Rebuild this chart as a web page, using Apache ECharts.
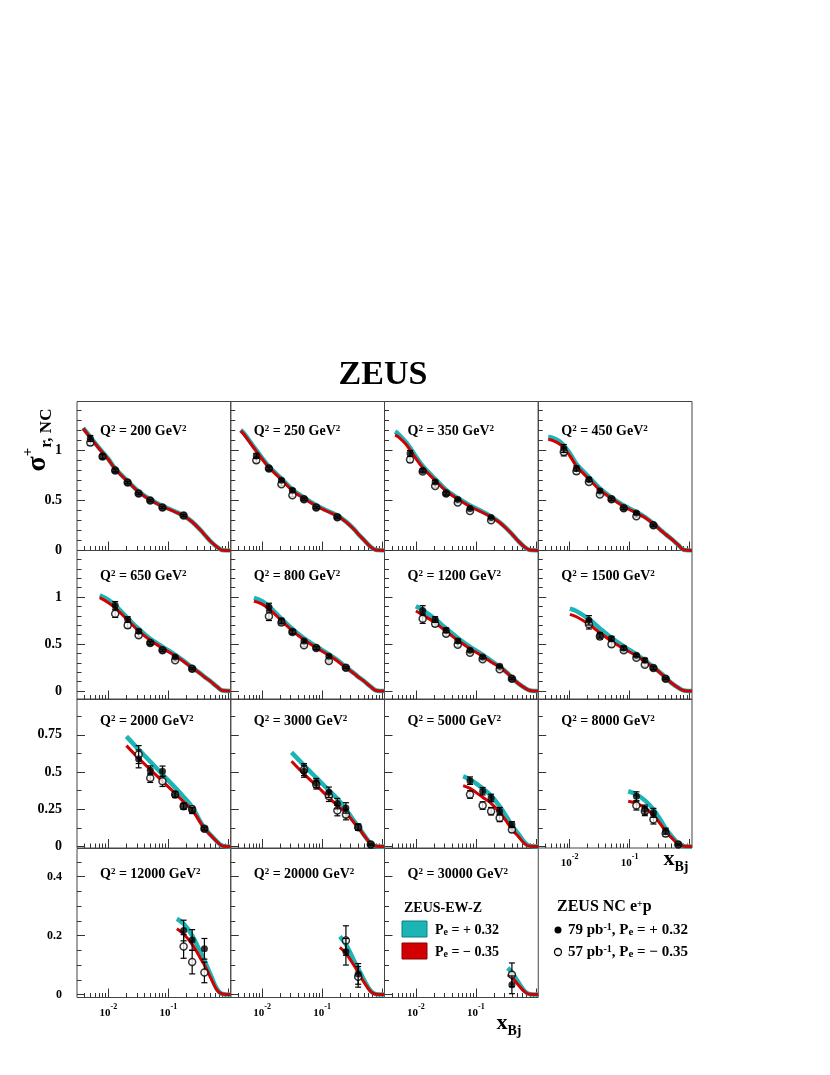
<!DOCTYPE html>
<html>
<head>
<meta charset="utf-8">
<script src="https://cdn.jsdelivr.net/npm/echarts@6/dist/echarts.min.js"></script>
<style>
html, body { margin: 0; padding: 0; background: #fff; }
#main { width: 830px; height: 1075px; }
</style>
</head>
<body>
<div id="main"></div>
<script>
const _ = null;
const FONT = '"Liberation Serif", "Times New Roman", serif';
const TEAL = '#1db4b6';
const RED = '#d20000';

// Q^2 of each panel (GeV^2)
const q2Values = [200, 250, 350, 450, 650, 800, 1200, 1500, 2000, 3000, 5000, 8000, 12000, 20000, 30000];

// x bins of the measured points
const xBins = [0.005, 0.008, 0.013, 0.021, 0.032, 0.05, 0.08, 0.13, 0.18, 0.25, 0.4, 0.65];

// 79 pb-1, Pe = +0.32 (filled)
const sigmaPos = [
  [1.12, 0.94, 0.80, 0.68, 0.57, 0.50, 0.43, _, 0.35, _, _, _],
  [_, 0.946, 0.82, 0.703, 0.603, 0.513, 0.43, _, 0.333, _, _, _],
  [_, 0.97, 0.80, 0.686, 0.57, 0.51, 0.42, _, 0.33, _, _, _],
  [_, 1.02, 0.82, 0.71, 0.596, 0.513, 0.423, 0.376, _, 0.253, _, _],
  [_, _, 0.912, 0.76, 0.635, 0.51, 0.433, 0.362, _, 0.238, _, _],
  [_, _, 0.894, 0.745, 0.628, 0.532, 0.457, 0.369, _, 0.249, _, _],
  [_, _, 0.858, 0.76, 0.646, 0.532, 0.433, 0.362, _, 0.263, 0.132, _],
  [_, _, _, 0.752, 0.593, 0.557, 0.457, 0.38, 0.327, 0.245, 0.132, _],
  [_, _, _, _, 0.588, 0.511, 0.505, 0.349, 0.27, 0.241, 0.12, _],
  [_, _, _, _, _, 0.505, 0.427, 0.364, 0.288, 0.259, 0.13, 0.013],
  [_, _, _, _, _, _, 0.442, 0.371, 0.326, 0.237, 0.147, _],
  [_, _, _, _, _, _, _, 0.337, 0.248, 0.226, 0.103, 0.013],
  [_, _, _, _, _, _, _, _, 0.217, 0.185, 0.155, _],
  [_, _, _, _, _, _, _, _, _, 0.145, 0.07, _],
  [_, _, _, _, _, _, _, _, _, _, 0.033, _]
];
const errPos = [
  [0.03, 0.02, 0.015, 0.012, 0.01, 0.01, 0.01, _, 0.01, _, _, _],
  [_, 0.025, 0.015, 0.015, 0.015, 0.012, 0.01, _, 0.01, _, _, _],
  [_, 0.03, 0.015, 0.015, 0.015, 0.012, 0.01, _, 0.01, _, _, _],
  [_, 0.04, 0.025, 0.02, 0.015, 0.012, 0.012, 0.012, _, 0.01, _, _],
  [_, _, 0.04, 0.03, 0.02, 0.015, 0.012, 0.012, _, 0.01, _, _],
  [_, _, 0.04, 0.03, 0.02, 0.015, 0.015, 0.012, _, 0.01, _, _],
  [_, _, 0.05, 0.03, 0.025, 0.02, 0.015, 0.015, _, 0.012, 0.01, _],
  [_, _, _, 0.05, 0.03, 0.025, 0.02, 0.015, 0.02, 0.015, 0.01, _],
  [_, _, _, _, 0.06, 0.03, 0.035, 0.02, 0.02, 0.02, 0.01, _],
  [_, _, _, _, _, 0.04, 0.03, 0.035, 0.035, 0.035, 0.02, 0.005],
  [_, _, _, _, _, _, 0.025, 0.025, 0.025, 0.025, 0.02, _],
  [_, _, _, _, _, _, _, 0.03, 0.03, 0.03, 0.02, 0.005],
  [_, _, _, _, _, _, _, _, 0.035, 0.035, 0.035, _],
  [_, _, _, _, _, _, _, _, _, 0.045, 0.035, _],
  [_, _, _, _, _, _, _, _, _, _, 0.03, _]
];

// 57 pb-1, Pe = -0.35 (open)
const sigmaNeg = [
  [1.08, 0.94, 0.80, 0.68, 0.57, 0.50, 0.43, _, 0.35, _, _, _],
  [_, 0.903, 0.82, 0.663, 0.553, 0.513, 0.43, _, 0.333, _, _, _],
  [_, 0.91, 0.79, 0.646, 0.57, 0.48, 0.396, _, 0.303, _, _, _],
  [_, 0.986, 0.793, 0.686, 0.56, 0.513, 0.423, 0.343, _, 0.253, _, _],
  [_, _, 0.823, 0.70, 0.593, 0.51, 0.433, 0.327, _, 0.238, _, _],
  [_, _, 0.795, 0.73, 0.628, 0.486, 0.457, 0.319, _, 0.249, _, _],
  [_, _, 0.77, 0.717, 0.61, 0.493, 0.408, 0.337, _, 0.231, 0.132, _],
  [_, _, _, 0.71, 0.58, 0.497, 0.433, 0.355, 0.28, 0.245, 0.132, _],
  [_, _, _, _, 0.617, 0.46, 0.438, 0.349, 0.27, 0.25, 0.12, _],
  [_, _, _, _, _, 0.516, 0.416, 0.337, 0.241, 0.214, 0.13, 0.013],
  [_, _, _, _, _, _, 0.349, 0.275, 0.237, 0.192, 0.114, _],
  [_, _, _, _, _, _, _, 0.275, 0.237, 0.181, 0.087, 0.013],
  [_, _, _, _, _, _, _, _, 0.163, 0.11, 0.075, _],
  [_, _, _, _, _, _, _, _, _, 0.183, 0.06, _],
  [_, _, _, _, _, _, _, _, _, _, 0.067, _]
];
const errNeg = [
  [0.03, 0.02, 0.015, 0.012, 0.01, 0.01, 0.01, _, 0.01, _, _, _],
  [_, 0.025, 0.015, 0.015, 0.015, 0.012, 0.01, _, 0.01, _, _, _],
  [_, 0.03, 0.015, 0.015, 0.015, 0.012, 0.01, _, 0.01, _, _, _],
  [_, 0.04, 0.025, 0.02, 0.015, 0.012, 0.012, 0.012, _, 0.01, _, _],
  [_, _, 0.04, 0.03, 0.02, 0.015, 0.012, 0.012, _, 0.01, _, _],
  [_, _, 0.045, 0.03, 0.02, 0.015, 0.015, 0.012, _, 0.01, _, _],
  [_, _, 0.05, 0.03, 0.025, 0.02, 0.015, 0.015, _, 0.012, 0.01, _],
  [_, _, _, 0.05, 0.03, 0.025, 0.02, 0.015, 0.02, 0.015, 0.01, _],
  [_, _, _, _, 0.06, 0.03, 0.035, 0.02, 0.02, 0.02, 0.01, _],
  [_, _, _, _, _, 0.04, 0.03, 0.035, 0.035, 0.035, 0.02, 0.005],
  [_, _, _, _, _, _, 0.025, 0.025, 0.025, 0.025, 0.02, _],
  [_, _, _, _, _, _, _, 0.03, 0.03, 0.03, 0.02, 0.005],
  [_, _, _, _, _, _, _, _, 0.04, 0.04, 0.035, _],
  [_, _, _, _, _, _, _, _, _, 0.05, 0.035, _],
  [_, _, _, _, _, _, _, _, _, _, 0.04, _]
];

// ZEUS-EW-Z predictions: first value at curveStart, then on curveX
const curveStart = [0.0038, 0.0044, 0.0045, 0.0044, 0.0072, 0.0073, 0.0100, 0.0101, 0.020, 0.031, 0.0615, 0.095, 0.139, 0.198, 0.34];
const curveX = [0.005, 0.007, 0.01, 0.013, 0.021, 0.032, 0.05, 0.08, 0.13, 0.18, 0.25, 0.35, 0.4, 0.5, 0.65, 0.8, 1.1];
const curvePos = [
  [1.225, 1.135, 1.025, 0.915, 0.82, 0.695, 0.59, 0.51, 0.445, 0.39, 0.348, 0.288, 0.2, 0.16, 0.095, 0.035, 0.003, 0],
  [1.205, 1.17, 1.05, 0.925, 0.84, 0.72, 0.61, 0.528, 0.452, 0.39, 0.35, 0.29, 0.207, 0.166, 0.105, 0.035, 0.004, 0],
  [1.19, 1.17, 1.075, 0.94, 0.845, 0.715, 0.605, 0.525, 0.45, 0.387, 0.34, 0.283, 0.202, 0.166, 0.10, 0.035, 0.004, 0],
  [1.136, 1.13, 1.085, 0.975, 0.865, 0.735, 0.62, 0.53, 0.45, 0.385, 0.335, 0.27, 0.192, 0.162, 0.116, 0.055, 0.007, 0],
  [1.018, _, _, 0.97, 0.91, 0.775, 0.66, 0.555, 0.47, 0.385, 0.322, 0.25, 0.183, 0.152, 0.106, 0.045, 0.005, 0],
  [0.99, _, _, 0.955, 0.90, 0.77, 0.66, 0.56, 0.475, 0.39, 0.33, 0.255, 0.183, 0.152, 0.106, 0.045, 0.006, 0],
  [0.901, _, _, _, 0.86, 0.765, 0.665, 0.565, 0.47, 0.385, 0.32, 0.26, 0.183, 0.142, 0.086, 0.035, 0.006, 0],
  [0.876, _, _, _, 0.85, 0.765, 0.665, 0.565, 0.475, 0.39, 0.325, 0.255, 0.178, 0.142, 0.086, 0.035, 0.006, 0],
  [0.739, _, _, _, _, _, 0.651, 0.57, 0.483, 0.395, 0.333, 0.265, 0.16, 0.125, 0.08, 0.033, 0.004, 0],
  [0.632, _, _, _, _, _, _, 0.545, 0.462, 0.377, 0.32, 0.25, 0.165, 0.135, 0.078, 0.02, 0.002, 0],
  [0.471, _, _, _, _, _, _, _, 0.45, 0.39, 0.34, 0.27, 0.18, 0.14, 0.09, 0.028, 0.003, 0],
  [0.371, _, _, _, _, _, _, _, _, 0.35, 0.31, 0.25, 0.16, 0.12, 0.07, 0.02, 0.002, 0],
  [0.257, _, _, _, _, _, _, _, _, _, 0.24, 0.2, 0.14, 0.115, 0.07, 0.018, 0.002, 0],
  [0.197, _, _, _, _, _, _, _, _, _, _, 0.17, 0.11, 0.088, 0.05, 0.012, 0.001, 0],
  [0.09, _, _, _, _, _, _, _, _, _, _, _, _, 0.075, 0.045, 0.012, 0.001, 0]
];
const curveNeg = [
  [1.22, 1.13, 1.02, 0.91, 0.815, 0.69, 0.585, 0.505, 0.44, 0.385, 0.345, 0.285, 0.2, 0.16, 0.095, 0.035, 0.003, 0],
  [1.196, 1.16, 1.04, 0.915, 0.83, 0.71, 0.60, 0.52, 0.445, 0.385, 0.345, 0.286, 0.205, 0.165, 0.105, 0.035, 0.004, 0],
  [1.155, 1.14, 1.055, 0.92, 0.83, 0.70, 0.595, 0.515, 0.44, 0.38, 0.335, 0.28, 0.20, 0.165, 0.10, 0.035, 0.004, 0],
  [1.11, 1.105, 1.06, 0.95, 0.845, 0.715, 0.605, 0.52, 0.44, 0.375, 0.33, 0.265, 0.19, 0.16, 0.115, 0.055, 0.007, 0],
  [0.993, _, _, 0.94, 0.885, 0.755, 0.64, 0.54, 0.455, 0.375, 0.315, 0.245, 0.18, 0.15, 0.105, 0.045, 0.005, 0],
  [0.957, _, _, 0.925, 0.875, 0.75, 0.64, 0.545, 0.46, 0.38, 0.32, 0.25, 0.18, 0.15, 0.105, 0.045, 0.006, 0],
  [0.851, _, _, _, 0.81, 0.725, 0.635, 0.54, 0.45, 0.37, 0.31, 0.255, 0.18, 0.14, 0.085, 0.035, 0.006, 0],
  [0.816, _, _, _, 0.79, 0.71, 0.62, 0.53, 0.45, 0.375, 0.315, 0.25, 0.175, 0.14, 0.085, 0.035, 0.006, 0],
  [0.677, _, _, _, _, _, 0.592, 0.516, 0.438, 0.357, 0.30, 0.245, 0.155, 0.12, 0.078, 0.032, 0.004, 0],
  [0.572, _, _, _, _, _, _, 0.486, 0.41, 0.328, 0.275, 0.225, 0.155, 0.13, 0.075, 0.02, 0.002, 0],
  [0.409, _, _, _, _, _, _, _, 0.39, 0.33, 0.29, 0.23, 0.15, 0.115, 0.072, 0.02, 0.002, 0],
  [0.304, _, _, _, _, _, _, _, _, 0.29, 0.26, 0.21, 0.135, 0.10, 0.06, 0.017, 0.002, 0],
  [0.223, _, _, _, _, _, _, _, _, _, 0.205, 0.17, 0.12, 0.10, 0.06, 0.015, 0.002, 0],
  [0.16, _, _, _, _, _, _, _, _, _, _, 0.14, 0.095, 0.075, 0.042, 0.01, 0.001, 0],
  [0.067, _, _, _, _, _, _, _, _, _, _, _, _, 0.058, 0.035, 0.01, 0.001, 0]
];

// axis ticks
const xMajorTicks = [0.01, 0.1, 1];
const xMinorTicks = [0.004, 0.005, 0.006, 0.007, 0.008, 0.009, 0.02, 0.03, 0.04, 0.05, 0.06, 0.07, 0.08, 0.09,
  0.2, 0.3, 0.4, 0.5, 0.6, 0.7, 0.8, 0.9];
const xTickLabels = [0.01, 0.1];
const yRanges = [[0, 1.49], [-0.09, 1.495], [-0.01, 0.99], [-0.01, 0.495]];
const yMajorTicks = [[0, 0.5, 1], [0, 0.5, 1], [0, 0.25, 0.5, 0.75], [0, 0.2, 0.4]];
const yMinorTicks = [
  [0.1, 0.2, 0.3, 0.4, 0.6, 0.7, 0.8, 0.9, 1.1, 1.2, 1.3, 1.4],
  [0.1, 0.2, 0.3, 0.4, 0.6, 0.7, 0.8, 0.9, 1.1, 1.2, 1.3, 1.4],
  [0.125, 0.375, 0.625, 0.875],
  [0.05, 0.1, 0.15, 0.25, 0.3, 0.35, 0.45]
];

const LOG = Math.log10;
const xMin = LOG(0.003), xMax = LOG(1.1);
const panelW = 153.75;
const rowTop = [401.5, 550.5, 699, 848.5];
const rowH = 149;
const labelMid = [431, 576.5, 721.5, 874];

function curveData(row, i) {
  const pts = [[LOG(curveStart[i]), row[0]]];
  curveX.forEach((x, k) => {
    if (row[k + 1] !== null) pts.push([LOG(x), row[k + 1]]);
  });
  return pts;
}

function pointData(vals, errs) {
  const out = [];
  xBins.forEach((x, k) => {
    if (vals[k] !== null) out.push([LOG(x), vals[k], errs[k]]);
  });
  return out;
}

function errorBar(params, api) {
  const x = api.value(0), y = api.value(1), e = api.value(2);
  const hi = api.coord([x, y + e]);
  const lo = api.coord([x, y - e]);
  const st = { stroke: '#000', lineWidth: 1.2 };
  return {
    type: 'group',
    children: [
      { type: 'line', shape: { x1: hi[0], y1: hi[1], x2: lo[0], y2: lo[1] }, style: st },
      { type: 'line', shape: { x1: hi[0] - 3, y1: hi[1], x2: hi[0] + 3, y2: hi[1] }, style: st },
      { type: 'line', shape: { x1: lo[0] - 3, y1: lo[1], x2: lo[0] + 3, y2: lo[1] }, style: st }
    ]
  };
}

const grids = [], xAxes = [], yAxes = [], series = [], graphics = [];
const supStyle = { font: 'bold 9px ' + FONT, verticalAlign: 'top', fill: '#000' };
const subStyle = { font: 'bold 10px ' + FONT, verticalAlign: 'bottom', fill: '#000' };
const nPanels = q2Values.length;
const noLine = { show: false, onZero: false };

q2Values.forEach((q2, i) => {
  const r = Math.floor(i / 4), c = i % 4;
  const left = 77 + c * panelW;
  const showX = r === 3 || (r === 2 && c === 3);

  // main grid (frame, major ticks, data)
  grids[i] = { left: left, top: rowTop[r], width: panelW, height: rowH, show: true,
    borderColor: '#444', borderWidth: 1, backgroundColor: 'transparent' };
  xAxes[i] = {
    type: 'value', gridIndex: i, min: xMin, max: xMax, position: 'bottom',
    axisLine: noLine, splitLine: { show: false },
    axisTick: { show: true, inside: true, length: 9, customValues: xMajorTicks.map(LOG), lineStyle: { color: '#333' } },
    axisLabel: {
      show: showX, customValues: xTickLabels.map(LOG), margin: 5,
      formatter: v => '{b|10}{s|' + Math.round(v) + '}',
      rich: {
        b: { fontFamily: FONT, fontWeight: 'bold', fontSize: 11, color: '#000', lineHeight: 16, verticalAlign: 'bottom' },
        s: { fontFamily: FONT, fontWeight: 'bold', fontSize: 8, color: '#000', verticalAlign: 'top' }
      }
    }
  };
  yAxes[i] = {
    type: 'value', gridIndex: i, min: yRanges[r][0], max: yRanges[r][1], position: 'left',
    axisLine: noLine, splitLine: { show: false },
    axisTick: { show: true, inside: true, length: 8, customValues: yMajorTicks[r], lineStyle: { color: '#333' } },
    axisLabel: {
      show: c === 0, customValues: yMajorTicks[r], margin: 15,
      fontFamily: FONT, fontWeight: 'bold', fontSize: r === 3 ? 12 : 14, color: '#000'
    }
  };

  // overlay grid for the minor ticks only
  const m = nPanels + i;
  grids[m] = { left: left, top: rowTop[r], width: panelW, height: rowH, show: false };
  xAxes[m] = {
    type: 'value', gridIndex: m, min: xMin, max: xMax, position: 'bottom',
    axisLine: noLine, splitLine: { show: false }, axisLabel: { show: false },
    axisTick: { show: true, inside: true, length: 4.5, customValues: xMinorTicks.map(LOG), lineStyle: { color: '#333' } }
  };
  yAxes[m] = {
    type: 'value', gridIndex: m, min: yRanges[r][0], max: yRanges[r][1], position: 'left',
    axisLine: noLine, splitLine: { show: false }, axisLabel: { show: false },
    axisTick: { show: true, inside: true, length: 4.5, customValues: yMinorTicks[r], lineStyle: { color: '#333' } }
  };

  series.push({
    type: 'line', xAxisIndex: i, yAxisIndex: i, data: curveData(curvePos[i], i),
    showSymbol: false, smooth: 0.35, silent: true, lineStyle: { color: TEAL, width: 4.5 }, z: 2
  });
  series.push({
    type: 'line', xAxisIndex: i, yAxisIndex: i, data: curveData(curveNeg[i], i),
    showSymbol: false, smooth: 0.35, silent: true, lineStyle: { color: RED, width: 3 }, z: 3
  });
  series.push({
    type: 'custom', xAxisIndex: i, yAxisIndex: i, data: pointData(sigmaNeg[i], errNeg[i]),
    renderItem: errorBar, encode: { x: 0, y: 1 }, silent: true, z: 4
  });
  series.push({
    type: 'scatter', xAxisIndex: i, yAxisIndex: i, data: pointData(sigmaNeg[i], errNeg[i]),
    symbol: 'circle', symbolSize: 7, silent: true,
    itemStyle: { color: '#fff', borderColor: '#000', borderWidth: 1.5 }, z: 5
  });
  series.push({
    type: 'custom', xAxisIndex: i, yAxisIndex: i, data: pointData(sigmaPos[i], errPos[i]),
    renderItem: errorBar, encode: { x: 0, y: 1 }, silent: true, z: 6
  });
  series.push({
    type: 'scatter', xAxisIndex: i, yAxisIndex: i, data: pointData(sigmaPos[i], errPos[i]),
    symbol: 'circle', symbolSize: 7, silent: true, itemStyle: { color: '#000' }, z: 7
  });

  graphics.push({
    type: 'text', x: left + 23, y: labelMid[r], z: 10,
    style: {
      text: 'Q{sup|2} = ' + q2 + ' GeV{sup|2}', font: 'bold 14px ' + FONT, fill: '#000',
      textVerticalAlign: 'middle', rich: { sup: supStyle }
    }
  });
});

const xbjRich = {
  x: { font: 'bold 22px ' + FONT, fill: '#000', lineHeight: 26, verticalAlign: 'top' },
  b: { font: 'bold 14px ' + FONT, fill: '#000', verticalAlign: 'bottom' }
};
const legSup = { font: 'bold 10px ' + FONT, verticalAlign: 'top', fill: '#000' };
const legSub = { font: 'bold 11px ' + FONT, verticalAlign: 'bottom', fill: '#000' };

// title, axis titles, legend
graphics.push(
  { type: 'text', x: 383, y: 375, style: { text: 'ZEUS', font: 'bold 34px ' + FONT, fill: '#000', textAlign: 'center', textVerticalAlign: 'middle' } },
  { type: 'text', x: 38, y: 440, rotation: Math.PI / 2,
    style: { text: '{s|σ}{p|+}{b|r, NC}', textAlign: 'center', textVerticalAlign: 'middle',
      rich: {
        s: { font: 'bold 28px ' + FONT, fill: '#000', lineHeight: 34, verticalAlign: 'middle' },
        p: { font: 'bold 15px ' + FONT, fill: '#000', verticalAlign: 'top' },
        b: { font: 'bold 17px ' + FONT, fill: '#000', verticalAlign: 'bottom' }
      } } },
  { type: 'text', x: 676, y: 861, style: { text: '{x|x}{b|Bj}', textAlign: 'center', textVerticalAlign: 'middle', rich: xbjRich } },
  { type: 'text', x: 509, y: 1025, style: { text: '{x|x}{b|Bj}', textAlign: 'center', textVerticalAlign: 'middle', rich: xbjRich } },
  { type: 'text', x: 404, y: 908, style: { text: 'ZEUS-EW-Z', font: 'bold 14px ' + FONT, fill: '#000', textVerticalAlign: 'middle' } },
  { type: 'rect', shape: { x: 402, y: 921, width: 25, height: 16 }, style: { fill: TEAL, stroke: '#0a7f80', lineWidth: 1 } },
  { type: 'rect', shape: { x: 402, y: 943, width: 25, height: 16 }, style: { fill: RED, stroke: '#8a0000', lineWidth: 1 } },
  { type: 'text', x: 435, y: 930,
    style: { text: 'P{sub|e} = + 0.32', font: 'bold 14px ' + FONT, fill: '#000', textVerticalAlign: 'middle', rich: { sub: subStyle } } },
  { type: 'text', x: 435, y: 952,
    style: { text: 'P{sub|e} = \u2212 0.35', font: 'bold 14px ' + FONT, fill: '#000', textVerticalAlign: 'middle', rich: { sub: subStyle } } },
  { type: 'text', x: 557, y: 907,
    style: { text: 'ZEUS NC e{sup|+}p', font: 'bold 16px ' + FONT, fill: '#000', textVerticalAlign: 'middle', rich: { sup: legSup } } },
  { type: 'circle', shape: { cx: 558, cy: 930, r: 3.5 }, style: { fill: '#000' } },
  { type: 'circle', shape: { cx: 558, cy: 952, r: 3.5 }, style: { fill: '#fff', stroke: '#000', lineWidth: 1.3 } },
  { type: 'text', x: 568, y: 930,
    style: { text: '79 pb{sup|-1}, P{sub|e} = + 0.32', font: 'bold 15px ' + FONT, fill: '#000', textVerticalAlign: 'middle', rich: { sup: legSup, sub: legSub } } },
  { type: 'text', x: 568, y: 952,
    style: { text: '57 pb{sup|-1}, P{sub|e} = \u2212 0.35', font: 'bold 15px ' + FONT, fill: '#000', textVerticalAlign: 'middle', rich: { sup: legSup, sub: legSub } } }
);

const chart = echarts.init(document.getElementById('main'), null, { renderer: 'canvas' });
chart.setOption({
  animation: false,
  backgroundColor: '#fff',
  grid: grids,
  xAxis: xAxes,
  yAxis: yAxes,
  series: series,
  graphic: graphics
});
</script>
</body>
</html>
